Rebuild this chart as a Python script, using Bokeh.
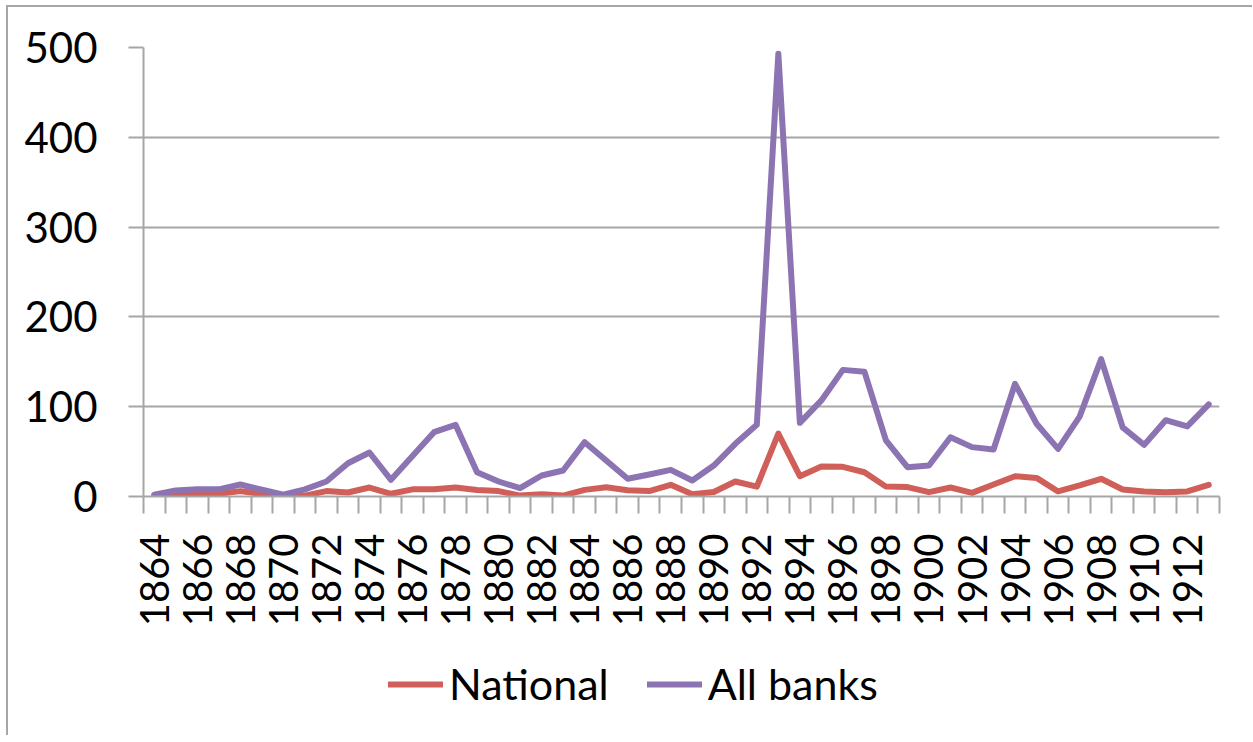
import math
from bokeh.plotting import figure
from bokeh.layouts import column
from bokeh.models import FixedTicker, Legend, LegendItem, Range1d
from bokeh.embed import file_html
from bokeh.resources import INLINE

years = list(range(1864, 1914))
national = [1, 1.5, 2.6, 3, 6, 2.6, 0.5, 1, 6, 4.5,
            10, 3, 8, 8, 10, 7.3, 6, 1, 2.6, 1,
            7.4, 10.4, 7, 6, 13, 2.6, 5, 16.7, 11, 70,
            22.6, 33.4, 33, 27, 11, 10.5, 4.8, 10, 4, 13.4,
            22.6, 20.7, 5.6, 12.3, 19.7, 7.8, 5.6, 4.8, 5.6, 13]
all_banks = [2, 6.7, 8, 8, 13.4, 7.5, 2, 8, 16.7, 37,
             49, 18.6, 45, 71.6, 79.8, 27, 16.7, 9.3, 23.4, 29,
             60.5, 40, 19.7, 24.5, 29.7, 17.8, 34.5, 58.7, 79.8, 493,
             82, 107, 141, 139, 62.4, 32.7, 34.5, 66, 55, 52.3,
             125.5, 81, 53, 89, 153, 77, 57.5, 85, 78, 102.5]
y_ticks = [0, 100, 200, 300, 400, 500]
label_years = years[::2]
series_names = ["National", "All banks"]

FONT = "Lato"
GRID = "#a6a6a6"
RED = "#cf5f58"
PURPLE = "#8c74b3"

p = figure(width=1244, height=640, output_backend="svg", toolbar_location=None,
           x_range=Range1d(years[0] - 0.5, years[-1] + 0.5),
           y_range=Range1d(0, 500),
           min_border_left=135, min_border_right=33, min_border_top=40,
           min_border_bottom=151)
p.outline_line_color = None
p.background_fill_color = "white"
p.border_fill_color = "white"

r1 = p.line(years, national, line_color=RED, line_width=6, line_join="round", line_cap="round")
r2 = p.line(years, all_banks, line_color=PURPLE, line_width=6, line_join="round", line_cap="round")

# x axis
xa = p.xaxis[0]
xa.ticker = FixedTicker(ticks=label_years,
                        minor_ticks=[y - 0.5 for y in years] + [years[-1] + 0.5])
xa.major_tick_out = 0
xa.major_tick_in = 0
xa.minor_tick_out = 17
xa.minor_tick_in = 0
xa.minor_tick_line_color = GRID
xa.minor_tick_line_width = 2
xa.axis_line_color = GRID
xa.axis_line_width = 2
xa.major_label_orientation = math.pi / 2
xa.major_label_text_font = FONT
xa.major_label_text_font_size = "40px"
xa.major_label_text_color = "black"
xa.major_label_standoff = 20

# y axis
ya = p.yaxis[0]
ya.ticker = FixedTicker(ticks=y_ticks)
ya.major_tick_out = 15
ya.major_tick_in = 0
ya.minor_tick_out = 0
ya.minor_tick_in = 0
ya.major_tick_line_color = GRID
ya.major_tick_line_width = 2
ya.axis_line_color = GRID
ya.axis_line_width = 2
ya.major_label_text_font = FONT
ya.major_label_text_font_size = "42px"
ya.major_label_text_color = "black"
ya.major_label_standoff = 31

p.xgrid.grid_line_color = None
p.ygrid.grid_line_color = GRID
p.ygrid.grid_line_width = 2
p.ygrid.ticker = FixedTicker(ticks=y_ticks)

# legend strip (separate figure below the chart; its lines lie outside its view)
q = figure(width=1244, height=88, output_backend="svg", toolbar_location=None,
           x_axis_location=None, y_axis_location=None,
           x_range=Range1d(0, 1), y_range=Range1d(0, 1),
           min_border_left=0, min_border_right=0, min_border_top=0, min_border_bottom=0)
q.outline_line_color = None
q.grid.grid_line_color = None
q.background_fill_color = "white"
q.border_fill_color = "white"
l1 = q.line(years, national, line_color=RED, line_width=6, line_cap="round")
l2 = q.line(years, all_banks, line_color=PURPLE, line_width=6, line_cap="round")

legend = Legend(items=[LegendItem(label=series_names[0], renderers=[l1]),
                       LegendItem(label=series_names[1], renderers=[l2])],
                location=(245, 26), orientation="horizontal",
                label_text_font=FONT, label_text_font_size="43px",
                label_text_color="black",
                glyph_width=55, glyph_height=48, label_height=48,
                label_standoff=6, spacing=38, padding=0, margin=0,
                border_line_color=None, background_fill_alpha=0)
q.add_layout(legend, "center")

lay = column(p, q, spacing=0)
lay.styles = {"margin-left": "6px", "margin-top": "5px",
              "border-left": "2px solid #a6a6a6", "border-top": "2px solid #a6a6a6"}

open("out.html", "w").write(file_html(lay, INLINE))
